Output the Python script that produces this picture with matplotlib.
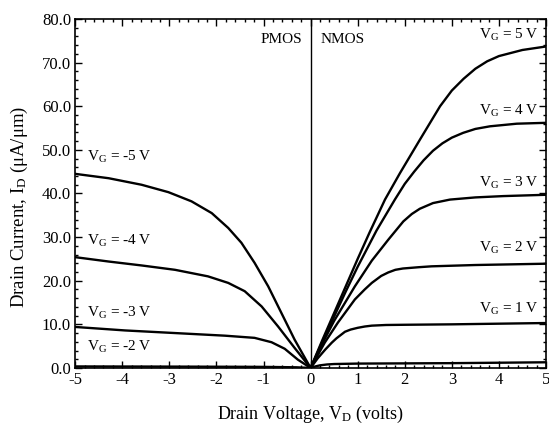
import matplotlib
matplotlib.use("Agg")
import matplotlib.pyplot as plt
from matplotlib.ticker import MultipleLocator, FormatStrFormatter

plt.rcParams["font.family"] = ["Liberation Serif", "DejaVu Serif"]
plt.rcParams["mathtext.fontset"] = "custom"
plt.rcParams["mathtext.rm"] = "Liberation Serif"
plt.rcParams["mathtext.it"] = "Liberation Serif:italic"
plt.rcParams["axes.unicode_minus"] = False

# NMOS curves (drain voltage, drain current)
nmos_vg5_x = [0, 0.25, 0.5, 0.75, 1.0, 1.25, 1.58, 1.9, 2.32, 2.75, 3.0, 3.25, 3.5, 3.75, 4.0, 4.5, 5.0]
nmos_vg5_y = [0, 6.4, 12.6, 18.8, 25.0, 31.0, 38.6, 44.7, 52.3, 60.0, 63.6, 66.3, 68.6, 70.3, 71.5, 72.9, 73.7]
nmos_vg4_x = [0, 0.25, 0.5, 0.75, 1.0, 1.4, 1.79, 2.0, 2.2, 2.4, 2.6, 2.8, 3.0, 3.24, 3.5, 3.81, 4.38, 5.0]
nmos_vg4_y = [0, 6.0, 11.8, 17.6, 23.2, 31.5, 38.6, 42.2, 45.0, 47.6, 49.8, 51.5, 52.8, 53.9, 54.8, 55.4, 56.0, 56.2]
nmos_vg3_x = [0, 0.25, 0.5, 0.94, 1.3, 1.65, 1.97, 2.15, 2.32, 2.6, 2.96, 3.5, 4.09, 5.0]
nmos_vg3_y = [0, 5.6, 10.8, 18.7, 24.6, 29.4, 33.6, 35.3, 36.5, 37.8, 38.6, 39.1, 39.4, 39.7]
nmos_vg2_x = [0, 0.3, 0.58, 0.94, 1.15, 1.3, 1.5, 1.65, 1.8, 1.96, 2.3, 2.57, 3.5, 5.0]
nmos_vg2_y = [0, 5.8, 10.4, 15.7, 18.0, 19.5, 21.1, 21.9, 22.5, 22.8, 23.1, 23.3, 23.6, 23.9]
nmos_vg1_x = [0, 0.15, 0.31, 0.45, 0.55, 0.73, 0.85, 1.0, 1.15, 1.3, 1.6, 2.0, 3.0, 5.0]
nmos_vg1_y = [0, 2.2, 4.2, 5.8, 6.8, 8.3, 8.8, 9.2, 9.5, 9.7, 9.85, 9.9, 10.0, 10.3]
nmos_vg0_x = [0, 0.1, 0.2, 0.35, 0.5, 1.0, 3.0, 5.0]
nmos_vg0_y = [0, 0.35, 0.6, 0.8, 0.9, 1.0, 1.1, 1.3]

# PMOS curves
pmos_vg5_x = [-5.0, -4.29, -3.59, -3.02, -2.53, -2.10, -1.75, -1.47, -1.19, -0.90, -0.62, -0.34, 0]
pmos_vg5_y = [44.5, 43.5, 42.0, 40.3, 38.2, 35.5, 32.1, 28.7, 24.1, 18.7, 12.6, 6.5, 0]
pmos_vg4_x = [-5.0, -4.29, -3.59, -2.88, -2.18, -1.75, -1.40, -1.04, -0.69, -0.34, 0]
pmos_vg4_y = [25.4, 24.4, 23.5, 22.5, 21.0, 19.5, 17.6, 14.1, 9.5, 4.6, 0]
pmos_vg3_x = [-5.0, -3.94, -2.88, -1.82, -1.19, -0.83, -0.55, -0.27, 0]
pmos_vg3_y = [9.4, 8.6, 8.0, 7.4, 6.9, 5.9, 4.4, 1.9, 0]
pmos_vg2_x = [-5.0, -2.5, -1.0, -0.3, 0]
pmos_vg2_y = [0.35, 0.3, 0.25, 0.15, 0]

nmos_labels = ["5", "4", "3", "2", "1"]
nmos_label_y = [75.5, 58.1, 41.6, 26.7, 12.6]
pmos_labels = ["-5", "-4", "-3", "-2"]
pmos_label_y = [47.4, 28.3, 11.8, 3.8]

fig = plt.figure(figsize=(5.49, 4.37), dpi=100)
ax = fig.add_axes([0.137, 0.158, 0.8575, 0.7985])

curves = [
    (nmos_vg5_x, nmos_vg5_y), (nmos_vg4_x, nmos_vg4_y), (nmos_vg3_x, nmos_vg3_y),
    (nmos_vg2_x, nmos_vg2_y), (nmos_vg1_x, nmos_vg1_y), (nmos_vg0_x, nmos_vg0_y),
    (pmos_vg5_x, pmos_vg5_y), (pmos_vg4_x, pmos_vg4_y), (pmos_vg3_x, pmos_vg3_y),
    (pmos_vg2_x, pmos_vg2_y),
]
for xs, ys in curves:
    ax.plot(xs, ys, color="black", linewidth=1.7, solid_joinstyle="round")

ax.axvline(0, color="black", linewidth=1.0)

for lab, y in zip(nmos_labels, nmos_label_y):
    ax.text(4.84, y, r"V$_{\mathrm{G}}$ = " + lab + " V", ha="right", va="baseline", fontsize=11)
for lab, y in zip(pmos_labels, pmos_label_y):
    ax.text(-4.74, y, r"V$_{\mathrm{G}}$ = " + lab + " V", ha="left", va="baseline", fontsize=11)

ax.text(-0.17, 74.5, "PMOS", ha="right", va="baseline", fontsize=11)
ax.text(0.22, 74.5, "NMOS", ha="left", va="baseline", fontsize=11)

ax.set_xlim(-5, 5)
ax.set_ylim(0, 80)
ax.xaxis.set_major_locator(MultipleLocator(1))
ax.xaxis.set_minor_locator(MultipleLocator(0.2))
ax.yaxis.set_major_locator(MultipleLocator(10))
ax.yaxis.set_minor_locator(MultipleLocator(2))
ax.yaxis.set_major_formatter(FormatStrFormatter("%.1f"))
ax.tick_params(which="both", direction="in", top=True, right=True, width=1.0)
ax.tick_params(which="major", length=5, labelsize=12, pad=3)
ax.tick_params(which="minor", length=2.5)
for s in ax.spines.values():
    s.set_linewidth(1.2)

ax.set_xlabel(r"Drain Voltage, V$_{\mathrm{D}}$ (volts)", fontsize=13, labelpad=11)
ax.set_ylabel(r"Drain Current, I$_{\mathrm{D}}$ ($\mathrm{\mu}$A/$\mathrm{\mu}$m)", fontsize=13.5)
ax.yaxis.set_label_coords(-0.097, 0.46)

fig.savefig("out.png", dpi=100)
